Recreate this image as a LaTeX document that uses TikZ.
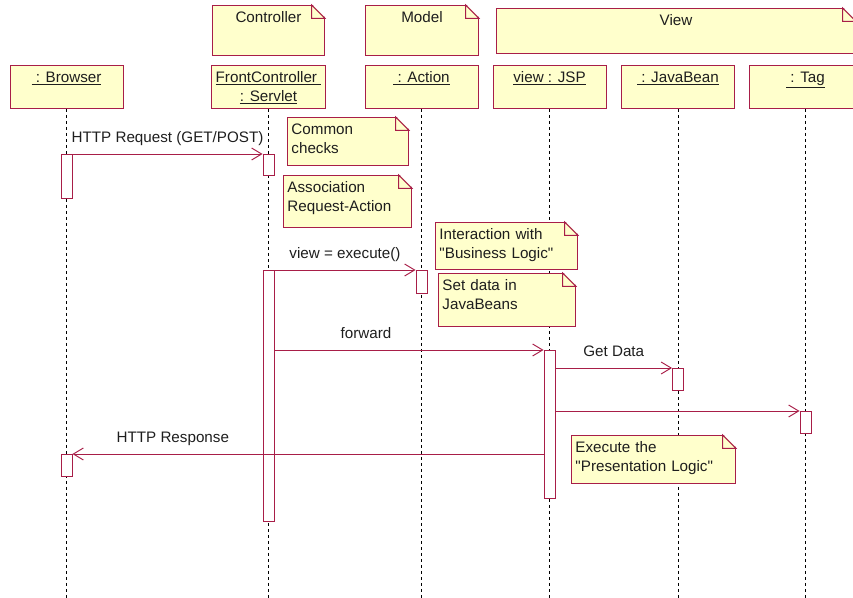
\documentclass[tikz,border=0pt]{standalone}
\usepackage{fontspec}
\setmainfont{Liberation Sans}[Ligatures=TeXOff]
\usetikzlibrary{arrows.meta}

\definecolor{umlline}{RGB}{168,30,72}
\definecolor{notefill}{RGB}{255,255,204}
\definecolor{umltext}{RGB}{30,30,30}

\begin{document}
\begin{tikzpicture}[%
    x=0.75pt, y=-0.75pt,        % work in screen pixels, top-down
    font=\fontsize{11.4}{14.25}\selectfont,
    text=umltext,
    ]
% -------------------------------------------------
% Box and line styles
\tikzset{
  base/.style={draw=umlline, line width=0.7pt, fill=notefill},
  head/.style={base, anchor=north, align=center, minimum width=84.75pt,
    inner ysep=3pt, text height=9.5pt, text depth=16.75pt},
  pkg/.style={base, anchor=north west, align=center,
    inner ysep=3pt, text height=9.5pt, text depth=#1},
  notebox/.style={base, anchor=north west, align=left, inner xsep=3pt,
    inner ysep=3pt, text height=9.5pt, text depth=#1},
  actbar/.style={draw=umlline, line width=0.7pt, fill=white, anchor=north,
    inner sep=0pt, minimum width=8.25pt},
  life/.style={black, line width=0.6pt, dash pattern=on 2.25pt off 2.25pt},
  fold/.style={draw=umlline, line width=0.7pt},
  % messages
  msg/.style={draw=umlline, line width=0.7pt,
    -{Straight Barb[length=7.5pt,width=9pt]}},
  lbl/.style={anchor=base, yshift=8.5pt, text=umltext}
}
\useasboundingbox (0,0) rectangle (853,598);
\clip (0,0) rectangle (853,598);
\coordinate (bottom) at (0,598);
% -------------------------------------------------
% Packages on top
\node [pkg=22pt, minimum width=84pt] (ctl) at (212,5) {Controller};
\node [pkg=22pt, minimum width=84.75pt] (mdl) at (365,5) {Model};
\node [pkg=18.25pt, minimum width=269.25pt] (vw) at (496,8) {View};

% Objects
\node [head] (browser) at (66.5,65) {\underline{~: Browser}};
\node [head, text height=23.75pt, text depth=2.5pt] (front) at (268.5,65)
  {\underline{FrontController~}\\\underline{: Servlet}};
\node [head] (action) at (421.5,65) {\underline{~: Action}};
\node [head] (jsp) at (549.5,65) {\underline{view : JSP}};
\node [head] (bean) at (678,65) {\underline{~: JavaBean}};
\node [head] (tag) at (805.5,65) {\underline{~: Tag}};

\foreach \h in {browser,front,action,jsp,bean,tag}
  \draw[life] (\h.south) -- (\h.south |- bottom);

% Activations
\node [actbar, minimum height=33pt] (b1) at (browser |- 0,154) {};
\node [actbar, minimum height=16.5pt] (b2) at (browser |- 0,454) {};
\node [actbar, minimum height=15.75pt] (f1) at (front |- 0,154) {};
\node [actbar, minimum height=188.25pt] (f2) at (front |- 0,270) {};
\node [actbar, minimum height=17.25pt] (a1) at (action |- 0,270) {};
\node [actbar, minimum height=111pt] (j1) at (jsp |- 0,350) {};
\node [actbar, minimum height=16.5pt] (v1) at (bean |- 0,368) {};
\node [actbar, minimum height=16.5pt] (t1) at (tag |- 0,411) {};

% Notes
\node [notebox=20.5pt, text width=84.75pt] (chk) at (287,117) {Common\\checks};
\node [notebox=23.5pt, text width=90pt] (asc) at (283,175) {Association\\Request-Action};
\node [notebox=19.75pt, text width=100.5pt] (biz) at (435,222) {Interaction with\\"Business Logic"};
\node [notebox=24.25pt, text width=96.75pt] (bns) at (438,273) {Set data in\\JavaBeans};
\node [notebox=20.5pt, text width=117pt] (pres) at (571,435) {Execute the\\"Presentation Logic"};

\foreach \n in {ctl,mdl,vw,chk,asc,biz,bns,pres} {
  \fill[white] ([xshift=-10pt,yshift=1pt]\n.north east) -- ([xshift=1pt,yshift=1pt]\n.north east)
    -- ([xshift=1pt,yshift=-10pt]\n.north east) -- cycle;
  \draw[fold] ([xshift=-10pt]\n.north east) |- ([yshift=-10pt]\n.north east) -- cycle;
}

% Messages
\draw[msg] (b1.north east) -- (f1.north west)
  node[lbl, midway] {HTTP Request (GET/POST)};
\draw[msg] (f2.north east) -- (a1.north west)
  node[lbl, midway] {view = execute()};
\draw[msg] (f2.east |- j1.north) -- (j1.north west)
  node[lbl, pos=0.34] {forward};
\draw[msg] (j1.east |- v1.north) -- (v1.north west)
  node[lbl, midway] {Get Data};
\draw[msg] (j1.east |- t1.north) -- (t1.north west);
\draw[msg] (j1.west |- b2.north) -- (b2.north east)
  node[lbl, pos=0.787] {HTTP Response};
% -------------------------------------------------
\end{tikzpicture}
\end{document}
